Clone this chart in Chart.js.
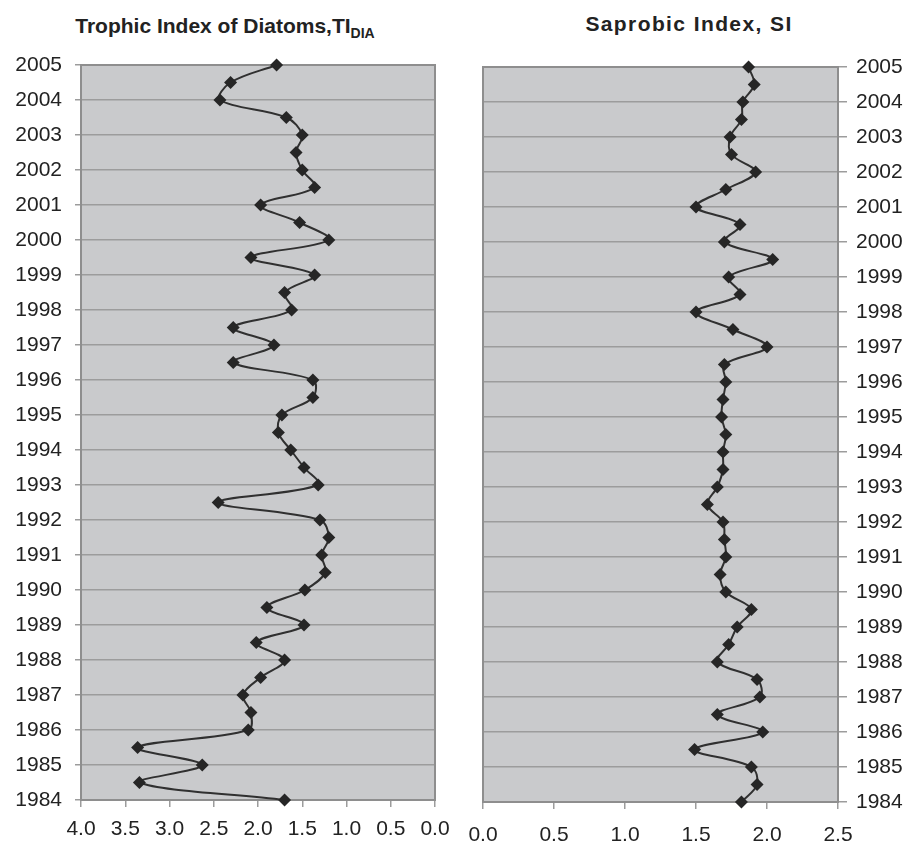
<!DOCTYPE html>
<html>
<head>
<meta charset="utf-8">
<script src="https://cdn.jsdelivr.net/npm/chart.js@4"></script>
<style>
    body { margin: 0; background: #fff; width: 907px; height: 843px; position: relative; overflow: hidden; font-family: "Liberation Sans", Arial, sans-serif; }
    canvas { position: absolute; top: 0; }
    .title { position: absolute; width: 400px; text-align: center; font-weight: bold; font-size: 21px; color: #222; white-space: nowrap; }
    .title sub { font-size: 14px; letter-spacing: 0; vertical-align: -5px; }
</style>
</head>
<body>
<div class="title" id="titleLeft" style="left:25px; top:14px;">Trophic Index of Diatoms,TI<sub>DIA</sub></div>
<div class="title" id="titleRight" style="left:489px; top:12px; letter-spacing:1.4px;">Saprobic Index, SI</div>
<canvas id="tiChart" style="left:0;" width="460" height="843"></canvas>
<canvas id="siChart" style="left:460px;" width="447" height="843"></canvas>
<script>
// sampling times (half-year steps), top to bottom
const years = [2005, 2004.5, 2004, 2003.5, 2003, 2002.5, 2002, 2001.5, 2001, 2000.5,
    2000, 1999.5, 1999, 1998.5, 1998, 1997.5, 1997, 1996.5, 1996, 1995.5,
    1995, 1994.5, 1994, 1993.5, 1993, 1992.5, 1992, 1991.5, 1991, 1990.5,
    1990, 1989.5, 1989, 1988.5, 1988, 1987.5, 1987, 1986.5, 1986, 1985.5,
    1985, 1984.5, 1984];

// Trophic Index of Diatoms
const tiValues = [1.79, 2.31, 2.43, 1.68, 1.50, 1.57, 1.50, 1.36, 1.97, 1.53,
    1.20, 2.08, 1.36, 1.70, 1.62, 2.28, 1.82, 2.28, 1.38, 1.38,
    1.73, 1.77, 1.63, 1.48, 1.32, 2.45, 1.30, 1.20, 1.28, 1.24,
    1.47, 1.90, 1.48, 2.02, 1.70, 1.97, 2.17, 2.08, 2.11, 3.36,
    2.63, 3.34, 1.70];

// Saprobic Index
const siValues = [1.87, 1.91, 1.83, 1.82, 1.74, 1.75, 1.92, 1.71, 1.50, 1.81,
    1.70, 2.04, 1.73, 1.81, 1.50, 1.76, 2.00, 1.70, 1.71, 1.69,
    1.68, 1.71, 1.69, 1.69, 1.65, 1.58, 1.69, 1.70, 1.71, 1.67,
    1.71, 1.89, 1.79, 1.73, 1.65, 1.93, 1.95, 1.65, 1.97, 1.49,
    1.89, 1.93, 1.82];

const yearTicks = [1984, 1985, 1986, 1987, 1988, 1989, 1990, 1991, 1992, 1993, 1994,
    1995, 1996, 1997, 1998, 1999, 2000, 2001, 2002, 2003, 2004, 2005];

const FONT = { family: '"Liberation Sans", Arial, sans-serif', size: 21 };
const GRID = '#9c9c9c';

// gray plot area with a box round it
const plotBox = {
    id: 'plotBox',
    beforeDraw(chart) {
        const a = chart.chartArea, ctx = chart.ctx;
        ctx.save();
        ctx.fillStyle = '#c9cacc';
        ctx.fillRect(a.left, a.top, a.right - a.left, a.bottom - a.top);
        ctx.restore();
    },
    beforeDatasetsDraw(chart) {
        const a = chart.chartArea, ctx = chart.ctx;
        ctx.save();
        ctx.strokeStyle = '#8e8e8e';
        ctx.lineWidth = 2;
        ctx.strokeRect(a.left, a.top, a.right - a.left, a.bottom - a.top);
        ctx.restore();
    }
};

function makeChart(id, values, opts) {
    const ctx = document.getElementById(id).getContext('2d');
    return new Chart(ctx, {
        type: 'scatter',
        data: {
            datasets: [{
                data: values.map((v, i) => ({ x: v, y: years[i] })),
                showLine: true,
                clip: false,
                tension: 0.35,
                borderColor: '#303030',
                borderWidth: 2,
                pointStyle: 'rectRot',
                pointRadius: 6.5,
                pointBackgroundColor: '#262626',
                pointBorderColor: '#262626',
                pointBorderWidth: 0
            }]
        },
        options: {
            responsive: false,
            animation: false,
            layout: { padding: opts.padding },
            plugins: { legend: { display: false }, tooltip: { enabled: false } },
            scales: {
                x: {
                    type: 'linear',
                    min: 0,
                    max: opts.xMax,
                    reverse: opts.reverse,
                    afterBuildTicks: s => { s.ticks = opts.xTicks.map(v => ({ value: v })); },
                    afterFit: s => { s.height = opts.xHeight; s.paddingLeft = 0; s.paddingRight = 0; },
                    grid: { drawOnChartArea: false, drawTicks: true, tickLength: 7, color: GRID, lineWidth: 1.5 },
                    border: { display: false },
                    ticks: { font: FONT, color: '#222', padding: opts.xPad, maxRotation: 0,
                        callback: v => v.toFixed(1) }
                },
                y: {
                    type: 'linear',
                    position: opts.yPos,
                    min: 1984,
                    max: 2005,
                    afterBuildTicks: s => { s.ticks = yearTicks.map(v => ({ value: v })); },
                    afterFit: s => { s.width = opts.yWidth; s.paddingTop = 0; s.paddingBottom = 0; },
                    grid: { color: GRID, lineWidth: 1.5, tickLength: opts.yTickLen },
                    border: { display: false },
                    ticks: { font: FONT, color: '#222', padding: opts.yPad, autoSkip: false,
                        callback: v => String(v) }
                }
            }
        },
        plugins: [plotBox]
    });
}

makeChart('tiChart', tiValues, {
    padding: { top: 65, right: 25, bottom: 0, left: 0 },
    xMax: 4, reverse: true, xTicks: [0, 0.5, 1, 1.5, 2, 2.5, 3, 3.5, 4], xHeight: 43, xPad: 10,
    yPos: 'left', yWidth: 81, yTickLen: 6, yPad: 13
});

makeChart('siChart', siValues, {
    padding: { top: 67, right: 0, bottom: 0, left: 23 },
    xMax: 2.5, reverse: false, xTicks: [0, 0.5, 1, 1.5, 2, 2.5], xHeight: 41, xPad: 14,
    yPos: 'right', yWidth: 69, yTickLen: 9, yPad: 9
});
</script>
</body>
</html>
